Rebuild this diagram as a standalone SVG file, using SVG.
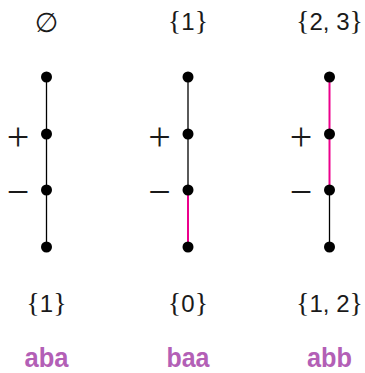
<svg xmlns="http://www.w3.org/2000/svg" width="365" height="373" viewBox="0 0 365 373">
<style>
.t{font-family:"Liberation Sans","DejaVu Sans",sans-serif;font-size:24px;fill:#1a1a1a;text-anchor:middle}
.b{font-family:"Liberation Serif","DejaVu Serif",serif;font-size:28px}
.e{font-family:"DejaVu Sans",sans-serif;font-size:27px;fill:#1a1a1a;text-anchor:middle}
.s{font-family:"Liberation Serif","DejaVu Serif",serif;font-size:40px;fill:#1a1a1a;text-anchor:middle}
.w{font-family:"Liberation Sans","DejaVu Sans",sans-serif;font-size:27px;font-weight:bold;fill:#b35fb6;text-anchor:middle}
.k{stroke:#000;stroke-width:1.3}
.m{stroke:#ec008c;stroke-width:2}
.d{fill:#000}
</style>
<g id="connectors">
<line class="k" x1="46.5" y1="77" x2="46.5" y2="247"/>
<line class="k" x1="188" y1="77" x2="188" y2="190"/>
<line class="m" x1="188" y1="190" x2="188" y2="247"/>
<line class="m" x1="329.5" y1="77" x2="329.5" y2="190"/>
<line class="k" x1="329.5" y1="190" x2="329.5" y2="247"/>
</g>
<g id="col1">
<text class="e" x="46.5" y="32">∅</text>
<text class="s" x="18" y="150">+</text>
<text class="s" x="18" y="205">−</text>
<circle class="d" cx="46.5" cy="77" r="5.5"/>
<circle class="d" cx="46.5" cy="134" r="5.5"/>
<circle class="d" cx="46.5" cy="190" r="5.5"/>
<circle class="d" cx="46.5" cy="247" r="5.5"/>
<text class="t" x="46.5" y="312"><tspan class="b">{</tspan>1<tspan class="b">}</tspan></text>
<text class="w" x="46.5" y="367" textLength="44" lengthAdjust="spacingAndGlyphs">aba</text>
</g>
<g id="col2">
<text class="t" x="188" y="30"><tspan class="b">{</tspan>1<tspan class="b">}</tspan></text>
<text class="s" x="159.5" y="150">+</text>
<text class="s" x="159.5" y="205">−</text>
<circle class="d" cx="188" cy="77" r="5.5"/>
<circle class="d" cx="188" cy="134" r="5.5"/>
<circle class="d" cx="188" cy="190" r="5.5"/>
<circle class="d" cx="188" cy="247" r="5.5"/>
<text class="t" x="188" y="312"><tspan class="b">{</tspan>0<tspan class="b">}</tspan></text>
<text class="w" x="188" y="367" textLength="43" lengthAdjust="spacingAndGlyphs">baa</text>
</g>
<g id="col3">
<text class="t" x="329.5" y="30"><tspan class="b">{</tspan>2, 3<tspan class="b">}</tspan></text>
<text class="s" x="301" y="150">+</text>
<text class="s" x="301" y="205">−</text>
<circle class="d" cx="329.5" cy="77" r="5.5"/>
<circle class="d" cx="329.5" cy="134" r="5.5"/>
<circle class="d" cx="329.5" cy="190" r="5.5"/>
<circle class="d" cx="329.5" cy="247" r="5.5"/>
<text class="t" x="329.5" y="312"><tspan class="b">{</tspan>1, 2<tspan class="b">}</tspan></text>
<text class="w" x="329.5" y="367" textLength="45" lengthAdjust="spacingAndGlyphs">abb</text>
</g>
</svg>
